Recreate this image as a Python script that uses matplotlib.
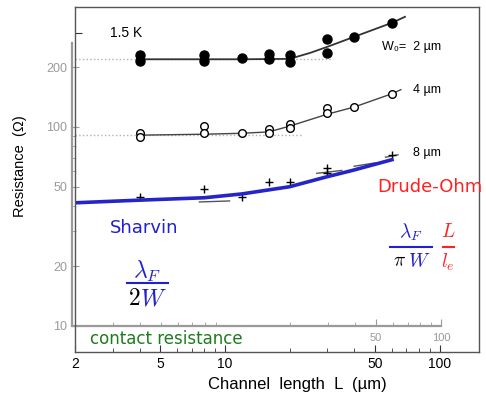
import matplotlib
matplotlib.use("Agg")
import numpy as np
import matplotlib.pyplot as plt
from matplotlib.lines import Line2D
from matplotlib.ticker import LogLocator, NullLocator, NullFormatter, FixedLocator

plt.rcParams['font.family'] = ['Liberation Sans', 'DejaVu Sans']
plt.rcParams['mathtext.fontset'] = 'cm'

# W0 = 2 um, filled circles (L in um, R in Ohm)
L_2um = [4, 4, 8, 8, 12, 16, 16, 20, 20, 30, 30, 40, 60]
R_2um = [230, 215, 230, 215, 222, 232, 219, 230, 212, 277, 236, 284, 334]
fit_L_2um = [4, 12, 20, 25, 30, 40, 60, 69]
fit_R_2um = [219, 219, 220, 236, 253, 284, 334, 358]
ref_L_2um = [2, 31.8]
ref_R_2um = [219, 219]

# W0 = 4 um, open circles
L_4um = [4, 4, 8, 8, 12, 16, 16, 20, 20, 30, 30, 40, 60]
R_4um = [93.6, 88.7, 101, 93, 93, 97.2, 93, 104, 98.5, 124, 117, 125.7, 147]
fit_L_4um = [4, 8, 12, 16, 20, 30, 40, 60, 66]
fit_R_4um = [91, 92, 93, 94.5, 101, 116, 126, 147, 154]
ref_L_4um = [2, 22.8]
ref_R_4um = [91, 91]

# W0 = 8 um, plus markers
L_8um = [4, 8, 12, 16, 20, 30, 30, 60]
R_8um = [44.7, 48.6, 44.7, 53.1, 52.8, 62.0, 58.9, 72.3]
fit_L_8um = [7.6, 10.5, np.nan, 26.8, 35, np.nan, 40, 50, np.nan, 56, 64]
fit_R_8um = [42, 42.5, np.nan, 58.5, 60.5, np.nan, 63.5, 66, np.nan, 70.5, 72.5]

# Sharvin + Drude-Ohm curve (blue)
model_L = [2, 4, 8, 12, 20, 30, 39, 60]
model_R = [41.6, 42.9, 44.1, 46.1, 50.1, 56.3, 60.4, 68.5]

x_ticks = [2, 5, 10, 50, 100]
y_ticks_inner = [10, 20, 50, 100, 200]

W, H = 486, 400
def fx(x): return x / W
def fy(y): return 1 - y / H

fig = plt.figure(figsize=(4.86, 4.0), dpi=100)
fig.patch.set_facecolor("white")

# inner (scanned) axis, grey
ax2 = fig.add_axes([fx(72), fy(326), fx(441) - fx(72), fy(43) - fy(326)])
ax2.set_xscale("log")
ax2.set_yscale("log")
ax2.set_xlim(1.94, 100)
ax2.set_ylim(10, 264)
ax2.patch.set_visible(False)
for s in ["top", "right"]:
    ax2.spines[s].set_visible(False)
for s in ["left", "bottom"]:
    ax2.spines[s].set_color("#9a9a9a")
    ax2.spines[s].set_linewidth(1.6)
ax2.yaxis.set_major_locator(FixedLocator(y_ticks_inner))
ax2.set_yticklabels([str(v) for v in y_ticks_inner])
ax2.yaxis.set_minor_locator(LogLocator(subs=np.arange(2, 10)))
ax2.yaxis.set_minor_formatter(NullFormatter())
ax2.xaxis.set_major_locator(FixedLocator([50, 100]))
ax2.set_xticklabels(["50", "100"])
ax2.xaxis.set_minor_locator(LogLocator(subs=np.arange(2, 10)))
ax2.xaxis.set_minor_formatter(NullFormatter())
ax2.tick_params(which="both", direction="in", color="#9a9a9a", labelcolor="#9a9a9a",
                labelsize=9)
ax2.tick_params(which="major", length=5)
ax2.tick_params(which="minor", length=3)
ax2.tick_params(axis="x", pad=5, labelsize=8)

# outer frame with the data
ax = fig.add_axes([fx(75), fy(352), fx(479) - fx(75), fy(7) - fy(352)])
ax.set_xscale("log")
ax.set_yscale("log")
ax.set_xlim(2, 152.7)
ax.set_ylim(7.4, 401)
ax.patch.set_visible(False)
for s in ax.spines.values():
    s.set_color("#555555")
    s.set_linewidth(1)

ax.xaxis.set_major_locator(FixedLocator(x_ticks))
ax.set_xticklabels([str(v) for v in x_ticks])
ax.xaxis.set_minor_locator(LogLocator(subs=np.arange(2, 10)))
ax.xaxis.set_minor_formatter(NullFormatter())
ax.yaxis.set_major_locator(FixedLocator([297]))
ax.set_yticklabels([""])
ax.yaxis.set_minor_locator(NullLocator())
ax.tick_params(which="both", direction="in", labelsize=10, color="#333333")
ax.tick_params(which="major", length=5)
ax.tick_params(which="minor", length=3)

ax.plot(ref_L_2um, ref_R_2um, ls=":", color="#b0b0b0", lw=1)
ax.plot(ref_L_4um, ref_R_4um, ls=":", color="#b0b0b0", lw=1)

ax.plot(fit_L_2um, fit_R_2um, color="#333333", lw=1.3)
ax.plot(fit_L_4um, fit_R_4um, color="#444444", lw=1.0)
ax.plot(fit_L_8um, fit_R_8um, color="#555555", lw=1.0)

ax.plot(L_2um, R_2um, "o", color="black", ms=6.5)
ax.plot(L_4um, R_4um, "o", mfc="white", mec="black", ms=5.5, mew=1)
ax.plot(L_8um, R_8um, "+", color="black", ms=6, mew=1)

ax.plot(model_L, model_R, color="#2424c8", lw=2.6)

ax.set_xlabel("Channel  length  L  (µm)", fontsize=12)
ax.xaxis.set_label_coords(0.55, -0.072)
ax.set_ylabel("Resistance  (Ω)", fontsize=10.5)
ax.yaxis.set_label_coords(-0.119, 0.54)

# annotations
fig.text(fx(110), fy(33), "1.5 K", fontsize=10, va="center")
fig.text(fx(382), fy(47), "W\u2080=  2 µm", fontsize=9, va="center")
fig.text(fx(413), fy(90), "4 µm", fontsize=9, va="center")
fig.text(fx(413), fy(153), "8 µm", fontsize=9, va="center")

blue = "#2020d0"
red = "#ff2020"
fig.text(fx(377), fy(187), "Drude-Ohm", fontsize=13, color=red, va="center",
         family="DejaVu Sans")
fig.text(fx(110), fy(228), "Sharvin", fontsize=13, color=blue, va="center",
         family="DejaVu Sans")
fig.text(fx(90), fy(339), "contact resistance", fontsize=12, color="#1e7b1e",
         va="center", family="DejaVu Sans")

# lambda_F / 2W
fig.text(fx(147), fy(271), r"$\lambda_F$", fontsize=17, color=blue, ha="center", va="center")
fig.add_artist(Line2D([fx(127), fx(168)], [fy(283), fy(283)], color=blue, lw=1.5))
fig.text(fx(134), fy(299), r"$2$", fontsize=17, color="black", ha="center", va="center")
fig.text(fx(153), fy(299), r"$W$", fontsize=17, color=blue, ha="center", va="center")

# lambda_F / (pi W) * L / l_e
fig.text(fx(411), fy(232), r"$\lambda_F$", fontsize=14, color=blue, ha="center", va="center")
fig.add_artist(Line2D([fx(390), fx(432)], [fy(247), fy(247)], color=blue, lw=1.5))
fig.text(fx(399), fy(262), r"$\pi$", fontsize=14, color="black", ha="center", va="center")
fig.text(fx(419), fy(262), r"$W$", fontsize=14, color=blue, ha="center", va="center")
fig.text(fx(448), fy(232), r"$L$", fontsize=14, color=red, ha="center", va="center")
fig.add_artist(Line2D([fx(443), fx(454)], [fy(247), fy(247)], color=red, lw=1.5))
fig.text(fx(448), fy(262), r"$l_e$", fontsize=14, color=red, ha="center", va="center")

fig.savefig("out.png", dpi=100)
